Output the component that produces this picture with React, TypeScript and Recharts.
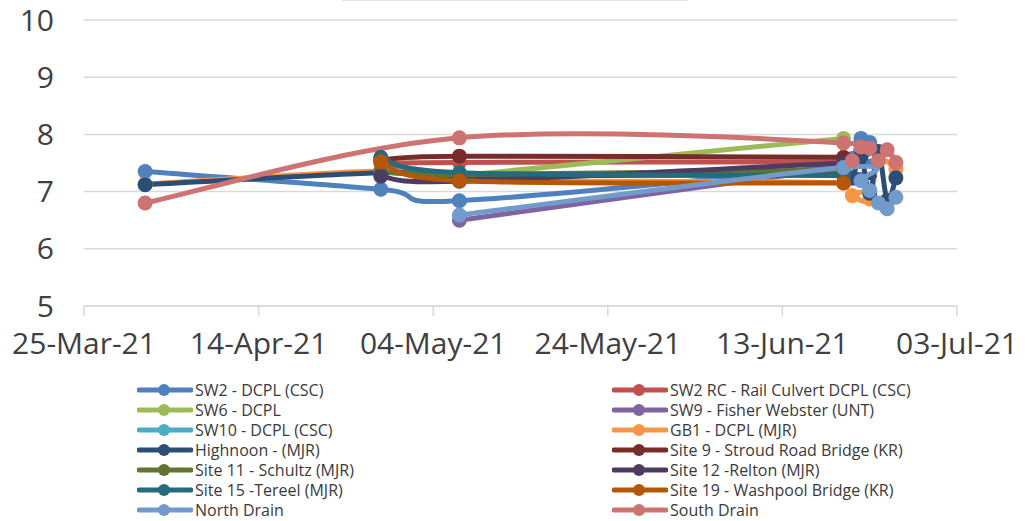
import { LineChart, Line, XAxis, YAxis, CartesianGrid } from 'recharts';

// sampling dates (UTC) used by the series below
const sampleDates = ['2021-04-01', '2021-04-28', '2021-05-07', '2021-06-20', '2021-06-21', '2021-06-22', '2021-06-23', '2021-06-24', '2021-06-25', '2021-06-26'];
const tickDates = ['2021-03-25', '2021-04-14', '2021-05-04', '2021-05-24', '2021-06-13', '2021-07-03'];
const yTicks = [5, 6, 7, 8, 9, 10];

const seriesNames = [
  'SW2 - DCPL (CSC)', 'SW2 RC - Rail Culvert DCPL (CSC)',
  'SW6 - DCPL', 'SW9 - Fisher Webster (UNT)',
  'SW10 - DCPL (CSC)', 'GB1 - DCPL (MJR)',
  'Highnoon - (MJR)', 'Site 9 - Stroud Road Bridge (KR)',
  'Site 11 - Schultz (MJR)', 'Site 12 -Relton (MJR)',
  'Site 15 -Tereel (MJR)', 'Site 19 - Washpool Bridge (KR)',
  'North Drain', 'South Drain',
];
const seriesColors = [
  '#4F81BD', '#C0504D', '#9BBB59', '#8064A2', '#4BACC6', '#F79646', '#2C4D75',
  '#772C2A', '#5F7530', '#4D3B62', '#276A7C', '#B65708', '#729ACA', '#CD7371',
];

// pH readings, null = not sampled that day
const sw2 = [7.35, 7.04, 6.84, 7.45, 7.58, 7.93, 7.86, null, null, null];
const sw2rc = [null, 7.5, 7.51, 7.52, null, null, null, null, null, null];
const sw6 = [null, null, 7.28, 7.93, null, null, null, null, null, null];
const sw9 = [null, null, 6.5, 7.42, null, null, null, null, null, null];
const sw10 = [null, 7.58, 7.32, 7.3, null, null, null, null, null, null];
const gb1 = [7.13, 7.36, 7.2, 7.15, 6.93, null, 6.87, 7.55, null, 7.4];
const highnoon = [7.12, 7.33, 7.27, 7.3, 7.24, 7.62, 6.97, 7.7, 6.85, 7.24];
const site9 = [null, 7.55, 7.62, 7.6, null, null, null, null, null, null];
const site11 = [null, 7.35, 7.3, 7.38, null, null, null, null, null, null];
const site12 = [null, 7.27, 7.18, 7.5, null, null, null, null, null, null];
const site15 = [null, 7.6, 7.33, 7.28, null, null, null, null, null, null];
const site19 = [null, 7.52, 7.19, 7.15, null, null, null, null, null, null];
const northDrain = [null, null, 6.59, 7.42, null, 7.19, 7.02, 6.8, 6.7, 6.9];
const southDrain = [6.8, null, 7.94, 7.85, 7.54, 7.78, 7.76, 7.54, 7.73, 7.51];

const seriesValues = [sw2, sw2rc, sw6, sw9, sw10, gb1, highnoon, site9, site11, site12, site15, site19, northDrain, southDrain];

const ts = (s: string) => Date.parse(s + 'T00:00:00Z');
const MONTHS = ['Jan', 'Feb', 'Mar', 'Apr', 'May', 'Jun', 'Jul', 'Aug', 'Sep', 'Oct', 'Nov', 'Dec'];
const fmtDate = (v: number) => {
  const d = new Date(v);
  const dd = String(d.getUTCDate()).padStart(2, '0');
  return `${dd}-${MONTHS[d.getUTCMonth()]}-${String(d.getUTCFullYear()).slice(2)}`;
};

const series = seriesValues.map((vals, i) => ({
  name: seriesNames[i],
  color: seriesColors[i],
  data: sampleDates
    .map((d, j) => ({ x: ts(d), y: vals[j] }))
    .filter((p) => p.y !== null),
}));

// Excel-style smoothed line (catmull-rom bezier, 1/6 tangents)
function excelSmooth(context: any) {
  let xs: number[] = [];
  let ys: number[] = [];
  return {
    areaStart() {},
    areaEnd() {},
    lineStart() {
      xs = [];
      ys = [];
    },
    lineEnd() {
      const n = xs.length;
      if (!n) return;
      context.moveTo(xs[0], ys[0]);
      for (let i = 0; i < n - 1; i++) {
        const x0 = xs[Math.max(i - 1, 0)], y0 = ys[Math.max(i - 1, 0)];
        const x1 = xs[i], y1 = ys[i];
        const x2 = xs[i + 1], y2 = ys[i + 1];
        const x3 = xs[Math.min(i + 2, n - 1)], y3 = ys[Math.min(i + 2, n - 1)];
        context.bezierCurveTo(
          x1 + (x2 - x0) / 6, y1 + (y2 - y0) / 6,
          x2 - (x3 - x1) / 6, y2 - (y3 - y1) / 6,
          x2, y2,
        );
      }
    },
    point(x: number, y: number) {
      xs.push(+x);
      ys.push(+y);
    },
  };
}

const font = '"Open Sans", sans-serif';

function ChartLegend() {
  return (
    <div style={{ position: 'absolute', left: 0, top: 0, width: 1027, height: 521, pointerEvents: 'none' }}>
      {series.map((s, i) => {
        const col = i % 2;
        const row = Math.floor(i / 2);
        const left = col === 0 ? 137 : 612;
        const top = 389.5 + row * 20;
        return (
          <div key={s.name} style={{ position: 'absolute', left, top: top - 9, height: 18, display: 'flex', alignItems: 'center' }}>
            <svg width={56} height={18}>
              <line x1={2} y1={9} x2={54} y2={9} stroke={s.color} strokeWidth={5} strokeLinecap="round" />
              <circle cx={27} cy={9} r={6} fill={s.color} />
            </svg>
            <span style={{ fontFamily: font, fontSize: 16, lineHeight: '18px', color: '#3a3a3a', marginLeft: 2, whiteSpace: 'nowrap' }}>{s.name}</span>
          </div>
        );
      })}
    </div>
  );
}

export default function App() {
  return (
    <div style={{ position: 'absolute', left: 0, top: 0, width: 1027, height: 521, overflow: 'hidden', background: '#fff' }}>
      <div style={{ position: 'absolute', left: 342, top: 0, width: 346, borderTop: '1px solid #e3e3e3' }} />
      <LineChart
        width={1027}
        height={521}
        margin={{ top: 20, right: 70, left: 0, bottom: 155 }}
      >
        <CartesianGrid vertical={false} stroke="#d9d9d9" strokeWidth={1.5} />
        <XAxis
          type="number"
          dataKey="x"
          domain={[ts(tickDates[0]), ts(tickDates[tickDates.length - 1])]}
          ticks={tickDates.map(ts)}
          tickFormatter={fmtDate}
          allowDuplicatedCategory={false}
          height={60}
          stroke="#d9d9d9"
          strokeWidth={1.5}
          tickSize={10}
          tickMargin={17}
          tick={{ fill: '#404040', fontSize: 30, fontFamily: font }}
        />
        <YAxis
          type="number"
          domain={[5, 10]}
          ticks={yTicks}
          width={84}
          axisLine={false}
          tickLine={false}
          tickSize={0}
          tickMargin={30}
          tick={{ fill: '#404040', fontSize: 30, fontFamily: font }}
        />
        {series.map((s) => (
          <Line
            key={s.name}
            data={s.data}
            dataKey="y"
            name={s.name}
            type={excelSmooth as any}
            stroke={s.color}
            strokeWidth={5}
            dot={{ r: 7.5, fill: s.color, stroke: s.color, strokeWidth: 0 }}
            activeDot={false}
            isAnimationActive={false}
          />
        ))}
      </LineChart>
      <ChartLegend />
    </div>
  );
}
